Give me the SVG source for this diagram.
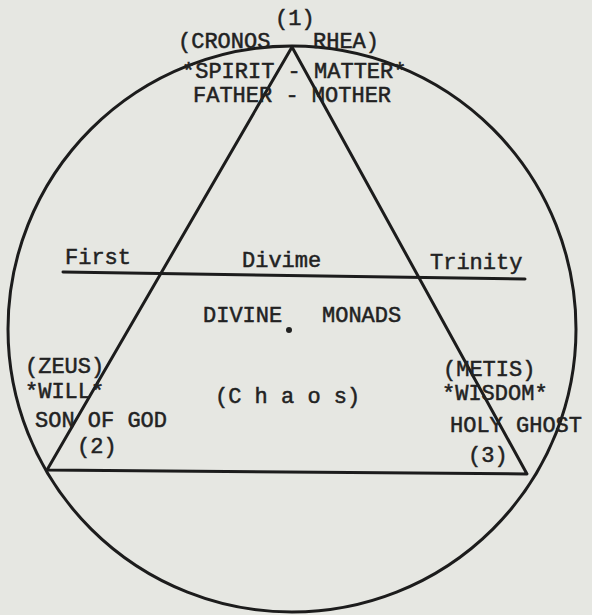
<svg xmlns="http://www.w3.org/2000/svg" width="592" height="615" viewBox="0 0 592 615">
<style>
.t{font-family:"Liberation Mono","Courier New",monospace;font-size:22px;fill:#222;stroke:#222;stroke-width:0.5}
.ln{fill:none;stroke:#1c1c1c;stroke-width:3;stroke-linecap:round;stroke-linejoin:round}
</style>
<rect width="592" height="615" fill="#e6e7e2"/>
<g id="connectors">
<ellipse class="ln" cx="292" cy="329" rx="284" ry="283"/>
<polygon class="ln" points="292,47 47,470 527,474"/>
<line class="ln" x1="63" y1="272" x2="525" y2="279"/>
<circle cx="289" cy="330" r="3" fill="#222"/>
</g>
<g id="node1">
<text class="t" x="275" y="25">(1)</text>
<text class="t" x="178" y="48">(CRONOS</text>
<text class="t" x="313" y="48">RHEA)</text>
<text class="t" x="182" y="78">*SPIRIT - MATTER*</text>
<text class="t" x="193" y="102">FATHER - MOTHER</text>
</g>
<g id="trinity">
<text class="t" x="65" y="264">First</text>
<text class="t" x="242" y="267">Divime</text>
<text class="t" x="430" y="269">Trinity</text>
</g>
<g id="center">
<text class="t" x="203" y="322">DIVINE</text>
<text class="t" x="322" y="322">MONADS</text>
<text class="t" x="215" y="403">(C h a o s)</text>
</g>
<g id="node2">
<text class="t" x="25" y="373">(ZEUS)</text>
<text class="t" x="25" y="398">*WILL*</text>
<text class="t" x="35" y="427">SON OF GOD</text>
<text class="t" x="77" y="453">(2)</text>
</g>
<g id="node3">
<text class="t" x="443" y="376">(METIS)</text>
<text class="t" x="442" y="400">*WISDOM*</text>
<text class="t" x="450" y="432">HOLY GHOST</text>
<text class="t" x="468" y="462">(3)</text>
</g>
</svg>
